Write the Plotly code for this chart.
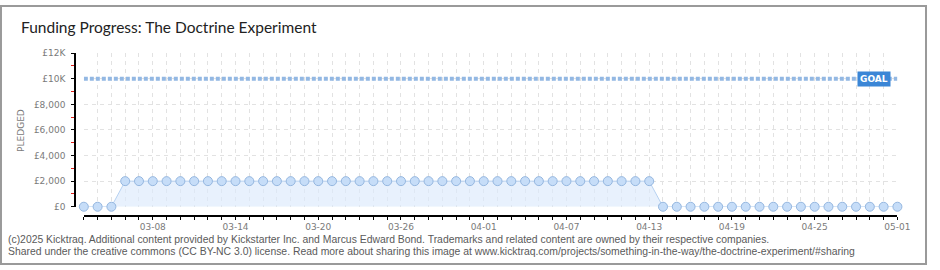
import plotly.graph_objects as go

W, H = 940, 270

dates = [
    "2025-03-03", "2025-03-04", "2025-03-05", "2025-03-06", "2025-03-07", "2025-03-08",
    "2025-03-09", "2025-03-10", "2025-03-11", "2025-03-12", "2025-03-13", "2025-03-14",
    "2025-03-15", "2025-03-16", "2025-03-17", "2025-03-18", "2025-03-19", "2025-03-20",
    "2025-03-21", "2025-03-22", "2025-03-23", "2025-03-24", "2025-03-25", "2025-03-26",
    "2025-03-27", "2025-03-28", "2025-03-29", "2025-03-30", "2025-03-31", "2025-04-01",
    "2025-04-02", "2025-04-03", "2025-04-04", "2025-04-05", "2025-04-06", "2025-04-07",
    "2025-04-08", "2025-04-09", "2025-04-10", "2025-04-11", "2025-04-12", "2025-04-13",
    "2025-04-14", "2025-04-15", "2025-04-16", "2025-04-17", "2025-04-18", "2025-04-19",
    "2025-04-20", "2025-04-21", "2025-04-22", "2025-04-23", "2025-04-24", "2025-04-25",
    "2025-04-26", "2025-04-27", "2025-04-28", "2025-04-29", "2025-04-30", "2025-05-01",
]
pledged = [
    0, 0, 0, 2000, 2000, 2000,
    2000, 2000, 2000, 2000, 2000, 2000,
    2000, 2000, 2000, 2000, 2000, 2000,
    2000, 2000, 2000, 2000, 2000, 2000,
    2000, 2000, 2000, 2000, 2000, 2000,
    2000, 2000, 2000, 2000, 2000, 2000,
    2000, 2000, 2000, 2000, 2000, 2000,
    0, 0, 0, 0, 0, 0,
    0, 0, 0, 0, 0, 0,
    0, 0, 0, 0, 0, 0,
]
goal = 10000
y_tickvals = [0, 2000, 4000, 6000, 8000, 10000, 12000]
y_ticktext = ["£0", "£2,000", "£4,000", "£6,000", "£8,000", "£10K", "£12K"]

title_text = "Funding Progress: The Doctrine Experiment"
footer1 = ("(c)2025 Kicktraq. Additional content provided by Kickstarter Inc. and Marcus Edward Bond. "
           "Trademarks and related content are owned by their respective companies.")
footer2 = ("Shared under the creative commons (CC BY-NC 3.0) license. Read more about sharing this image at "
           "www.kicktraq.com/projects/something-in-the-way/the-doctrine-experiment/#sharing")

# pixel layout helpers
def px_x(p):
    return p / W

def px_y(p):
    return (H - p) / H

fig = go.Figure()

fig.add_trace(go.Scatter(
    x=[dates[0], dates[-1]], y=[goal, goal], mode="lines",
    line=dict(color="#93b8e3", width=4, dash="4px,2px"),
    hoverinfo="skip", showlegend=False, cliponaxis=False,
))

fig.add_trace(go.Scatter(
    x=dates, y=pledged, mode="lines+markers",
    line=dict(color="#b6d1f1", width=1),
    fill="tozeroy", fillcolor="rgba(220,234,252,0.65)",
    marker=dict(size=9, color="#c6ddf8", line=dict(color="#95b7e0", width=1)),
    showlegend=False, cliponaxis=False,
))

tick_font = dict(family="DejaVu Sans", size=9, color="#7a7a7a")

fig.update_layout(
    width=W, height=H,
    margin=dict(l=0, r=0, t=0, b=0),
    paper_bgcolor="white", plot_bgcolor="white",
    xaxis=dict(
        domain=[px_x(85), px_x(910)],
        anchor="free", position=px_y(219),
        type="date",
        range=[dates[0], dates[-1]],
        tick0="2025-03-08", dtick=6 * 86400000,
        tickformat="%m-%d",
        ticks="outside", ticklen=3, tickcolor="black", tickwidth=1,
        tickfont=tick_font,
        showline=True, linecolor="black", linewidth=1.5,
        showgrid=True, gridcolor="#e2e2e2", griddash="4px,4px", gridwidth=1,
        zeroline=False,
        minor=dict(dtick=86400000, tick0="2025-03-03", ticks="outside", ticklen=3,
                   tickcolor="black", showgrid=True, gridcolor="#e2e2e2",
                   griddash="4px,4px", gridwidth=1),
    ),
    yaxis=dict(
        domain=[px_y(209.5), px_y(50)],
        anchor="free", position=px_x(76),
        range=[0, 12000],
        tickvals=y_tickvals, ticktext=y_ticktext,
        ticks="outside", ticklen=3, tickcolor="black", tickwidth=1,
        tickfont=tick_font,
        ticklabelstandoff=4,
        showline=True, linecolor="black", linewidth=1.5,
        showgrid=True, gridcolor="#e2e2e2", griddash="4px,4px", gridwidth=1,
        zeroline=False,
        minor=dict(dtick=1000, tick0=0, ticks="outside", ticklen=3, tickcolor="#e0201a",
                   showgrid=False),
    ),
    shapes=[dict(type="rect", xref="paper", yref="paper",
                 x0=px_x(1), x1=px_x(939), y0=px_y(269), y1=px_y(1),
                 line=dict(color="#9a9a9a", width=2), fillcolor="rgba(0,0,0,0)", layer="above")],
    annotations=[
        dict(text=title_text, xref="paper", yref="paper", x=px_x(19), y=px_y(23),
             xanchor="left", yanchor="middle", showarrow=False,
             font=dict(family="Lato", size=15.5, color="#222222")),
        dict(text="PLEDGED", xref="paper", yref="paper", x=px_x(21), y=px_y(130),
             xanchor="center", yanchor="middle", textangle=-90, showarrow=False,
             font=dict(family="DejaVu Sans", size=9, color="#7a7a7a")),
        dict(text="<b>GOAL</b>", x=dates[-1], y=goal, xref="x", yref="y",
             xanchor="right", yanchor="middle", xshift=-6, showarrow=False,
             bgcolor="#3b86d6", borderpad=2,
             font=dict(family="DejaVu Sans", size=9, color="white")),
        dict(text=footer1, xref="paper", yref="paper", x=px_x(6), y=px_y(243),
             xanchor="left", yanchor="middle", showarrow=False,
             font=dict(family="Liberation Sans", size=10.4, color="#5a5a5a")),
        dict(text=footer2, xref="paper", yref="paper", x=px_x(6), y=px_y(256),
             xanchor="left", yanchor="middle", showarrow=False,
             font=dict(family="Liberation Sans", size=10.4, color="#5a5a5a")),
    ],
)

fig.write_html("out.html")
